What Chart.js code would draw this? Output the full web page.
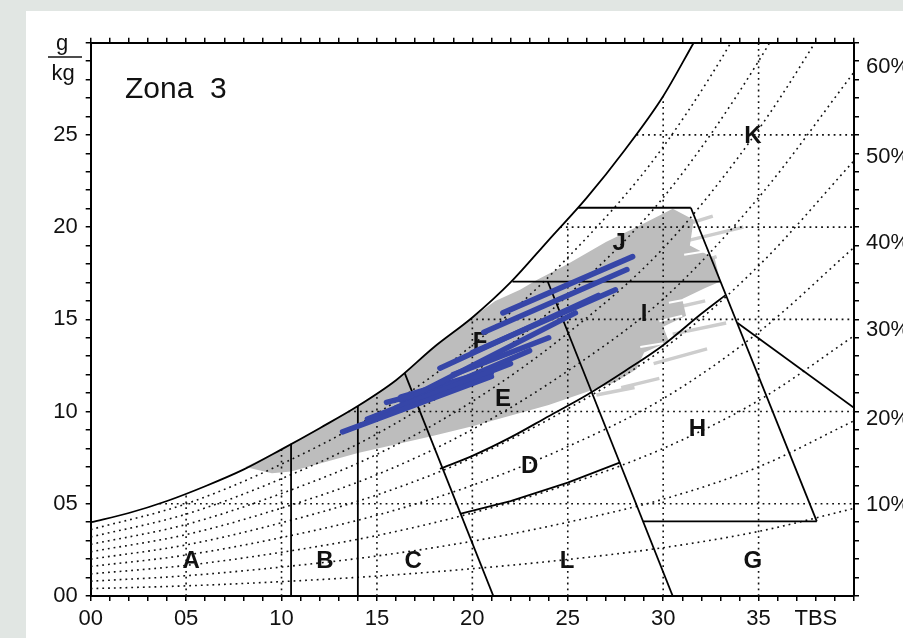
<!DOCTYPE html>
<html>
<head>
<meta charset="utf-8">
<script src="https://cdn.jsdelivr.net/npm/chart.js@4.4.1/dist/chart.umd.min.js"></script>
<style>
html, body { margin: 0; padding: 0; background: #e1e6e3; overflow: hidden; }
#box { position: absolute; left: 26px; top: 11px; width: 877px; height: 627px; background: #fff; }
canvas { display: block; }
</style>
</head>
<body>
<div id="box"><canvas id="myChart" width="877" height="627"></canvas></div>
<script>
// axis ticks
const xTickPos = [0, 5, 10, 15, 20, 25, 30, 35, 38];
const xTickLabels = ['00', '05', '10', '15', '20', '25', '30', '35', 'TBS'];
const yTickPos = [0, 5, 10, 15, 20, 25];
const yTickLabels = ['00', '05', '10', '15', '20', '25'];
// relative humidity labels on the right axis (g/kg where they sit)
const rhLabelW = [4.94, 9.6, 14.4, 19.15, 23.8, 28.7];
const rhLabels = ['10%', '20%', '30%', '40%', '50%', '60%'];

// saturation curve (100%)
const satT = [0, 2, 4, 6, 8, 10, 12, 14, 16, 18, 20, 22, 24, 26, 28, 30, 31.6];
const satW = [4.0, 4.5, 5.15, 5.95, 6.85, 7.95, 9.1, 10.3, 11.7, 13.5, 15.1, 17.0, 19.3, 21.6, 24.2, 27.1, 30.0];

// relative humidity curves, read at these temperatures
const rhT = [0, 5, 10, 15, 20, 25, 30, 35, 40];
const rh10 = [0.4, 0.55, 0.78, 1.08, 1.48, 1.98, 2.62, 3.5, 4.75];
const rh20 = [0.8, 1.1, 1.57, 2.17, 2.97, 4.0, 5.25, 7.0, 9.5];
const rh30 = [1.2, 1.66, 2.37, 3.28, 4.5, 6.05, 8.0, 10.6, 14.1];
const rh40 = [1.6, 2.22, 3.17, 4.38, 6.0, 8.1, 10.7, 14.3, 18.9];
const rh50 = [2.0, 2.77, 3.97, 5.48, 7.5, 10.15, 13.4, 17.9, 23.6];
const rh60 = [2.4, 3.33, 4.77, 6.58, 9.03, 12.2, 16.1, 21.6, 28.4];
const rh70 = [2.8, 3.88, 5.56, 7.68, 10.55, 14.25, 18.85, 25.3, 33.4];
const rh80 = [3.2, 4.44, 6.36, 8.79, 12.05, 16.3, 21.6, 29.0, 38.4];
const rh90 = [3.6, 5.0, 7.15, 9.9, 13.6, 18.35, 24.35, 32.7, 43.8];

// dotted grid under the saturation curve
const gridT = [5, 10, 15, 20, 25, 30, 35];
const gridTopW = [5.55, 7.95, 11.0, 15.1, 20.45, 27.1, 30];
const gridW = [5, 10, 15, 20, 25];
const gridLeftT = [3.6, 13.5, 19.9, 24.6, 28.6];

// zone boundaries [T, w]
const lineAB = [[10.5, 0], [10.5, 8.25]];
const lineBC = [[14, 0], [14, 10.3]];
const lineCL = [[16.45, 12.1], [21.1, 0]];
const lineED = [[18.3, 6.9], [20, 7.6], [22, 8.6], [24, 9.75], [26, 10.9], [28, 12.2], [30, 13.6], [32, 15.3], [33.25, 16.3]];
const lineDL = [[19.35, 4.45], [22, 5.15], [25, 6.15], [27.75, 7.25]];
const lineLH = [[23.95, 17.05], [30.5, 0]];
const lineJI = [[22.1, 17.05], [33.0, 17.05]];
const lineJtop = [[25.55, 21.05], [31.45, 21.05]];
const lineIH = [[31.45, 21.05], [38.05, 4.05]];
const lineG = [[28.95, 4.05], [38.05, 4.05]];
const lineKH = [[33.9, 14.8], [40, 10.2]];

// zone letters
const zoneNames = ['A', 'B', 'C', 'L', 'G', 'D', 'H', 'E', 'I', 'F', 'J', 'K'];
const zoneT = [5.26, 12.28, 16.9, 24.96, 34.7, 23.0, 31.8, 21.6, 29.0, 20.4, 27.7, 34.7];
const zoneW = [1.95, 1.95, 1.95, 1.95, 1.95, 7.1, 9.1, 10.7, 15.35, 13.8, 19.2, 25.0];

// climate data cloud (grey area)
const cloud = [[8.1, 7.0], [10, 7.95], [12, 9.1], [14, 10.3], [16, 11.7], [18, 13.5], [20, 15.1], [21.2, 16.0],
  [22.5, 16.6], [23.4, 17.15], [25, 18.0], [27, 19.2], [28.8, 20.1], [30.5, 21.0], [31.6, 20.4], [31.4, 19.0],
  [32.7, 18.3], [33.0, 17.05], [32.2, 16.7], [31.0, 16.1], [31.2, 15.2], [30.0, 14.6], [30.3, 13.8], [29.0, 13.2],
  [28.6, 12.3], [27.5, 11.6], [24, 10.35], [20, 9.2], [17.8, 8.65], [14, 7.75], [10.5, 6.75], [9.5, 6.65]];
const streaks = [
  [[29.5, 19.6], [32.6, 20.6]],
  [[31.0, 19.2], [34.2, 20.0]],
  [[30.5, 17.6], [32.8, 18.4]],
  [[30.5, 15.6], [32.2, 16.0]],
  [[30.5, 14.2], [33.3, 14.8]],
  [[29.5, 12.6], [32.3, 13.4]],
  [[27.8, 11.3], [29.8, 11.8]],
  [[26.5, 10.9], [28.5, 11.3]]
];
const gaps = [
  [[31.1, 18.5], [32.3, 18.7]],
  [[30.3, 15.9], [31.8, 16.2]],
  [[28.8, 13.5], [30.0, 13.7]],
  [[29.8, 14.9], [31.0, 15.2]]
];

// blue day lines
const blueLines = [
  [[13.2, 8.9], [21.0, 11.9]],
  [[14.5, 9.6], [22.0, 12.6]],
  [[15.5, 10.5], [16.8, 10.85]],
  [[16.0, 10.2], [23.0, 13.3]],
  [[17.0, 10.9], [25.4, 15.35]],
  [[18.3, 12.35], [26.6, 16.3]],
  [[19.0, 12.0], [24.0, 14.0]],
  [[20.0, 13.2], [27.5, 16.6]],
  [[20.6, 14.3], [28.1, 17.7]],
  [[21.6, 15.35], [28.4, 18.4]]
];
const blueBand = [[16.3, 10.7], [20.9, 12.1]];

const pts = arr => arr.map(p => ({x: p[0], y: p[1]}));
const datasets = [];

function addLine(arr, opts) {
  datasets.push(Object.assign({
    data: pts(arr), showLine: true, pointRadius: 0, borderColor: '#000',
    borderWidth: 1.8, fill: false, order: 7
  }, opts));
}

// blue lines on top
blueLines.forEach(l => addLine(l, {borderColor: '#3646a8', borderWidth: 5.5, order: 1, isBlue: true, borderCapStyle: 'round'}));
addLine(blueBand, {borderColor: '#3646a8', borderWidth: 9, order: 1, isBlue: true, borderCapStyle: 'round'});

// solid lines
addLine(satT.map((t, i) => [t, satW[i]]), {cubicInterpolationMode: 'monotone', borderWidth: 1.8});
[lineAB, lineBC, lineCL, lineDL, lineLH, lineJI, lineJtop, lineIH, lineG, lineKH].forEach(l => addLine(l));
addLine(lineED, {cubicInterpolationMode: 'monotone'});

// dotted lines
const dotted = {borderDash: [1.8, 4], borderWidth: 1.6, borderColor: '#111', order: 8};
[rh10, rh20, rh30, rh40, rh50, rh60, rh70, rh80, rh90].forEach(rh =>
  addLine(rhT.map((t, i) => [t, rh[i]]), Object.assign({cubicInterpolationMode: 'monotone'}, dotted)));
gridT.forEach((t, i) => addLine([[t, 0], [t, gridTopW[i]]], dotted));
gridW.forEach((w, i) => addLine([[gridLeftT[i], w], [40, w]], dotted));

// grey data cloud
gaps.forEach(l => addLine(l, {borderColor: '#ffffff', borderWidth: 2, order: 9}));
addLine(cloud, {borderWidth: 0, backgroundColor: '#bdbdbd', fill: 'shape', order: 10});
streaks.forEach(l => addLine(l, {borderColor: '#cdcdcd', borderWidth: 3.5, order: 11}));

const labelFont = '"Liberation Sans", Arial, sans-serif';

const textPlugin = {
  id: 'texts',
  beforeDatasetsDraw(chart) { this.done = false; },
  beforeDatasetDraw(chart, args) {
    if (this.done || !chart.data.datasets[args.index].isBlue) return;
    this.done = true;
    const ctx = chart.ctx, x = chart.scales.x, y = chart.scales.y;
    ctx.save();
    ctx.fillStyle = '#111';
    ctx.font = 'bold 24px ' + labelFont;
    ctx.textAlign = 'center';
    ctx.textBaseline = 'middle';
    zoneNames.forEach((n, i) => ctx.fillText(n, x.getPixelForValue(zoneT[i]), y.getPixelForValue(zoneW[i]) + 1));
    ctx.restore();
  },
  afterDraw(chart) {
    const ctx = chart.ctx;
    ctx.save();
    ctx.fillStyle = '#111';
    ctx.font = '30px ' + labelFont;
    ctx.textAlign = 'left';
    ctx.textBaseline = 'alphabetic';
    ctx.fillText('Zona  3', 99, 87);
    ctx.font = '22px ' + labelFont;
    ctx.textAlign = 'center';
    ctx.fillText('g', 36, 39);
    ctx.fillText('kg', 37, 69);
    ctx.strokeStyle = '#111';
    ctx.lineWidth = 1.5;
    ctx.beginPath();
    ctx.moveTo(22, 46);
    ctx.lineTo(56, 46);
    ctx.stroke();
    ctx.restore();
  }
};

const tickFont = {family: labelFont, size: 22};
const axisBorder = {display: true, color: '#000', width: 2};
const tickGrid = {drawOnChartArea: false, drawTicks: true, tickLength: 5, lineWidth: 1.5, color: '#000', tickColor: '#000'};

const ctx = document.getElementById('myChart').getContext('2d');
const myChart = new Chart(ctx, {
  type: 'scatter',
  data: {datasets: datasets},
  options: {
    responsive: false,
    animation: false,
    layout: {padding: 0},
    plugins: {legend: {display: false}, tooltip: {enabled: false}},
    scales: {
      x: {
        type: 'linear', position: 'bottom', min: 0, max: 40,
        border: axisBorder, grid: tickGrid,
        ticks: {
          stepSize: 1, autoSkip: false, maxRotation: 0, padding: 5, color: '#111', font: tickFont,
          callback: v => { const k = xTickPos.indexOf(v); return k < 0 ? '' : xTickLabels[k]; }
        },
        afterFit: s => { s.height = 42; }
      },
      x2: {
        type: 'linear', position: 'top', min: 0, max: 40,
        border: axisBorder, grid: tickGrid,
        ticks: {stepSize: 1, autoSkip: false, display: false},
        afterFit: s => { s.height = 31.7; }
      },
      y: {
        type: 'linear', position: 'left', min: 0, max: 30,
        border: axisBorder, grid: tickGrid,
        ticks: {
          stepSize: 1, autoSkip: false, padding: 8, color: '#111', font: tickFont,
          callback: v => { const k = yTickPos.indexOf(v); return k < 0 ? '' : yTickLabels[k]; }
        },
        afterFit: s => { s.width = 64.7; }
      },
      y2: {
        type: 'linear', position: 'right', min: 0, max: 30,
        border: axisBorder,
        grid: Object.assign({}, tickGrid, {
          tickColor: c => (c.tick && rhLabelW.indexOf(c.tick.value) >= 0) ? 'rgba(0,0,0,0)' : '#000'
        }),
        ticks: {
          stepSize: 1, autoSkip: false, padding: 7, color: '#111', font: tickFont,
          callback: v => { const k = rhLabelW.indexOf(v); return k < 0 ? '' : rhLabels[k]; }
        },
        afterBuildTicks: s => {
          s.ticks = s.ticks.concat(rhLabelW.map(v => ({value: v}))).sort((a, b) => a.value - b.value);
        },
        afterFit: s => { s.width = 49; }
      }
    }
  },
  plugins: [textPlugin]
});
</script>
</body>
</html>
